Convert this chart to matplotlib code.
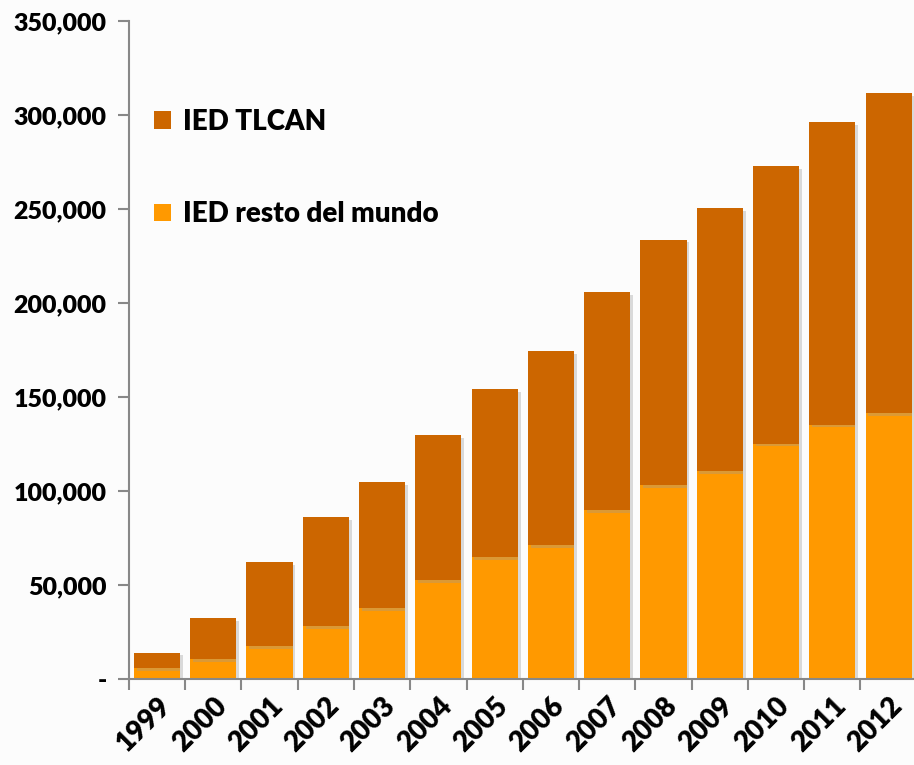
import numpy as np
import matplotlib
matplotlib.use("Agg")
import matplotlib.pyplot as plt
import matplotlib.patheffects as pe
from matplotlib.ticker import FuncFormatter

plt.rcParams['font.family'] = ['Lato', 'DejaVu Sans']
plt.rcParams['font.weight'] = 'heavy'

years = ["1999", "2000", "2001", "2002", "2003", "2004", "2005",
         "2006", "2007", "2008", "2009", "2010", "2011", "2012"]
# total stock and "rest of the world" part
total = [14000, 32300, 62100, 86200, 104900, 129800, 154100,
         174500, 205900, 233700, 250400, 272700, 296400, 311700]
resto = [6000, 10500, 17550, 28200, 37600, 52700, 64900,
         71400, 89700, 103000, 110600, 125200, 135300, 141600]
tlcan = [t - r for t, r in zip(total, resto)]

c_tlcan = "#cc6600"
c_resto = "#ff9900"

fig = plt.figure(figsize=(9.14, 7.65), dpi=100, facecolor="#fcfcfc")
ax = fig.add_axes([0.141, 0.1124, 0.862, 0.8601])
ax.set_facecolor("#fcfcfc")

x = np.arange(len(years))
shadow = [pe.SimplePatchShadow(offset=(2, -2), shadow_rgbFace="#999999", alpha=0.35), pe.Normal()]
b1 = ax.bar(x, resto, width=0.82, color=c_resto, label="IED resto del mundo", zorder=2)
b2 = ax.bar(x, tlcan, width=0.82, bottom=resto, color=c_tlcan, label="IED TLCAN", zorder=2)
for b in list(b1) + list(b2):
    b.set_path_effects(shadow)

ax.set_xlim(-0.5, len(years) - 0.5)
ax.set_ylim(0, 350000)
ax.set_yticks(np.arange(0, 350001, 50000))
ax.yaxis.set_major_formatter(FuncFormatter(lambda v, p: "-" if v == 0 else "{:,.0f}".format(v)))

ax.set_xticks(x)
ax.set_xticklabels(years, rotation=45, ha="right", rotation_mode="anchor")
ax.set_xticks(np.arange(-0.5, len(years), 1), minor=True)
ax.tick_params(axis="x", which="major", length=0, labelsize=20, pad=10)
ax.tick_params(axis="x", which="minor", length=8, width=1.5, color="#888888", direction="out")
ax.tick_params(axis="y", length=8, width=1.5, color="#888888", labelsize=18, pad=8)

for s in ["top", "right"]:
    ax.spines[s].set_visible(False)
for s in ["left", "bottom"]:
    ax.spines[s].set_color("#888888")
    ax.spines[s].set_linewidth(1.5)

handles = [b2, b1]
leg = ax.legend(handles, [h.get_label() for h in handles], loc="upper left",
                bbox_to_anchor=(0.0, 0.905), frameon=False, fontsize=20,
                labelspacing=2.4, handlelength=0.6, handleheight=0.6, handletextpad=0.45)
for h in leg.legend_handles:
    h.set_path_effects([])

fig.savefig("out.png", dpi=100, facecolor=fig.get_facecolor())
